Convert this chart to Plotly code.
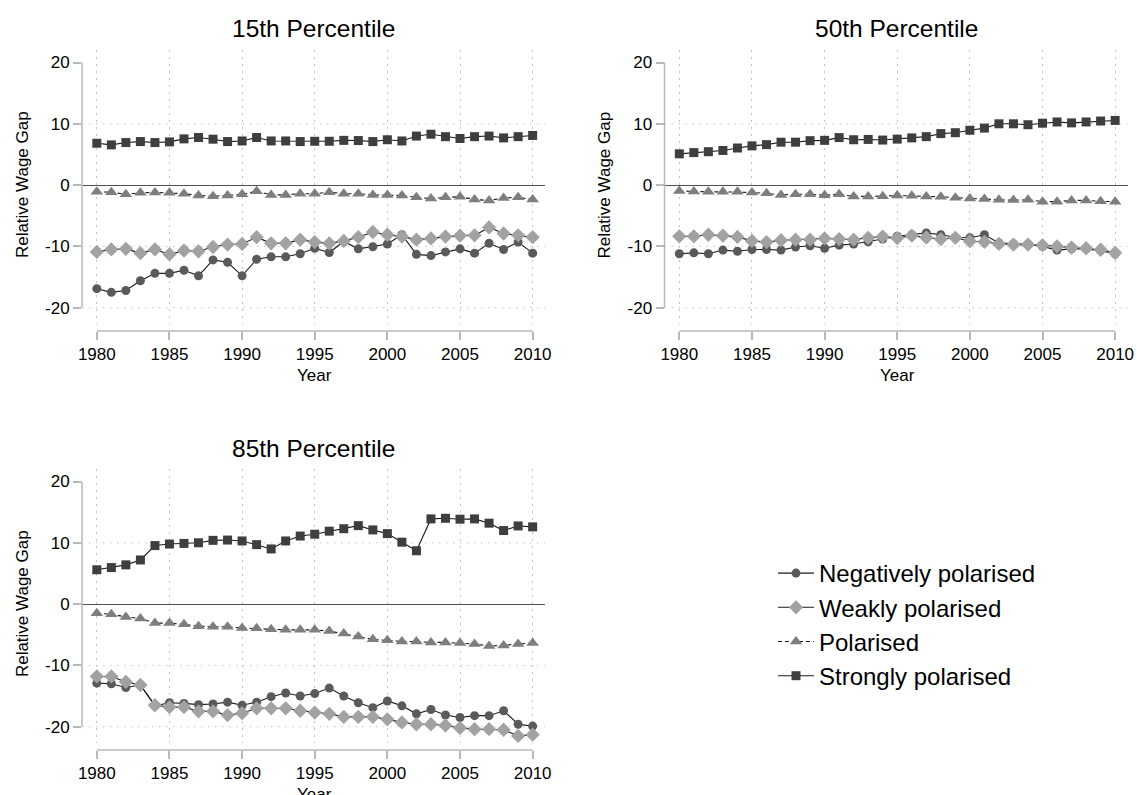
import plotly.graph_objects as go

W, H = 1137, 795
FONT = "Liberation Sans, Arial, Helvetica, sans-serif"


def px_x(v):
    return v / W


def px_y(v):
    return 1 - v / H


years = list(range(1980, 2011))
x_ticks = [1980, 1985, 1990, 1995, 2000, 2005, 2010]
y_ticks = [-20, -10, 0, 10, 20]
y_tick_labels = ["-20", "-10", "0", "10", "20"]
y_grid = [-20, -10, 10]

series_names = ["Negatively polarised", "Weakly polarised", "Polarised", "Strongly polarised"]
panel_titles = ["15th Percentile", "50th Percentile", "85th Percentile"]

# 15th percentile
neg15 = [-16.9, -17.5, -17.2, -15.6, -14.4, -14.4, -13.9, -14.8, -12.2, -12.6, -14.8, -12.1, -11.7, -11.7, -11.2,
         -10.3, -11.0, -9.2, -10.4, -10.05, -9.6, -8.1, -11.3, -11.5, -10.9, -10.4, -11.1, -9.5, -10.5, -9.3, -11.1]
weak15 = [-10.9, -10.5, -10.4, -11.1, -10.5, -11.3, -10.7, -10.8, -10.1, -9.7, -9.6, -8.5, -9.5, -9.5, -8.9,
          -9.3, -9.5, -9.1, -8.5, -7.65, -8.1, -8.4, -8.9, -8.7, -8.4, -8.25, -8.2, -6.9, -7.9, -8.2, -8.5]
pol15 = [-1.1, -1.15, -1.5, -1.25, -1.2, -1.25, -1.4, -1.7, -1.8, -1.7, -1.5, -1.0, -1.6, -1.6, -1.4,
         -1.4, -1.15, -1.4, -1.4, -1.6, -1.6, -1.7, -2.0, -2.2, -2.0, -1.9, -2.35, -2.5, -2.1, -2.0, -2.35]
strong15 = [6.83, 6.56, 6.94, 7.1, 6.94, 7.05, 7.54, 7.76, 7.49, 7.1, 7.2, 7.76, 7.2, 7.2, 7.1,
            7.15, 7.15, 7.3, 7.27, 7.1, 7.4, 7.2, 8.0, 8.3, 7.9, 7.6, 7.9, 8.0, 7.7, 7.9, 8.1]

# 50th percentile
neg50 = [-11.2, -11.05, -11.2, -10.6, -10.8, -10.5, -10.5, -10.6, -10.1, -9.9, -10.3, -9.8, -9.6, -9.25, -8.8,
         -8.35, -8.1, -7.8, -8.1, -8.5, -8.6, -8.1, -9.45, -9.6, -9.65, -10.0, -10.6, -10.4, -10.4, -10.7, -11.2]
weak50 = [-8.35, -8.35, -8.1, -8.25, -8.45, -9.1, -9.3, -9.0, -8.9, -8.9, -8.7, -8.8, -8.9, -8.6, -8.4,
          -8.65, -8.25, -8.55, -8.8, -8.6, -9.15, -9.25, -9.6, -9.7, -9.7, -9.8, -10.0, -10.2, -10.3, -10.55, -11.05]
pol50 = [-0.95, -1.05, -1.1, -1.1, -1.1, -1.2, -1.35, -1.6, -1.5, -1.5, -1.65, -1.5, -1.85, -1.85, -1.8,
         -1.7, -1.75, -1.85, -1.9, -2.05, -2.2, -2.25, -2.4, -2.45, -2.4, -2.7, -2.7, -2.5, -2.5, -2.65, -2.7]
strong50 = [5.1, 5.3, 5.45, 5.65, 6.05, 6.4, 6.6, 7.0, 7.0, 7.25, 7.3, 7.75, 7.4, 7.45, 7.35,
            7.5, 7.7, 7.9, 8.4, 8.55, 8.95, 9.3, 10.0, 10.0, 9.85, 10.1, 10.3, 10.15, 10.3, 10.45, 10.55]

# 85th percentile
neg85 = [-12.9, -13.0, -13.6, -13.2, -16.6, -16.1, -16.2, -16.4, -16.3, -16.0, -16.5, -16.0, -15.1, -14.5, -15.0,
         -14.6, -13.7, -15.0, -16.1, -16.9, -15.8, -16.6, -17.9, -17.2, -18.1, -18.5, -18.2, -18.2, -17.4, -19.6, -19.9]
weak85 = [-11.8, -11.8, -12.7, -13.2, -16.5, -16.8, -16.8, -17.5, -17.5, -18.1, -17.8, -17.0, -17.0, -17.0, -17.4,
          -17.7, -17.9, -18.4, -18.4, -18.4, -18.8, -19.3, -19.6, -19.6, -19.8, -20.2, -20.4, -20.4, -20.5, -21.5, -21.3]
pol85 = [-1.5, -1.65, -2.1, -2.35, -3.1, -3.1, -3.3, -3.6, -3.7, -3.7, -3.9, -3.95, -4.1, -4.2, -4.2,
         -4.2, -4.4, -4.8, -5.3, -5.75, -5.9, -6.1, -6.1, -6.25, -6.25, -6.35, -6.5, -6.85, -6.75, -6.5, -6.35]
strong85 = [5.6, 5.96, 6.4, 7.2, 9.55, 9.8, 9.9, 10.0, 10.4, 10.45, 10.3, 9.7, 9.0, 10.3, 11.1,
            11.4, 11.9, 12.3, 12.8, 12.1, 11.5, 10.1, 8.7, 13.9, 14.0, 13.85, 13.9, 13.2, 12.0, 12.75, 12.6]

panel_data = [
    [neg15, weak15, pol15, strong15],
    [neg50, weak50, pol50, strong50],
    [neg85, weak85, pol85, strong85],
]

# ---- styling ----
symbols = ["circle", "diamond", "triangle-up", "square"]
mcolors = ["#5a5a5a", "#a2a2a2", "#7e7e7e", "#3e3e3e"]
msizes = [9, 11, 11, 9]
dashes = ["solid", "solid", "4px,3px", "solid"]
LINE_COLOR = "#1a1a1a"
AX_COLOR = "#b8b8b8"
GRID_COLOR = "#c4c4c4"
GRID_DASH = "1.5px,5.5px"

# page-pixel boxes of plot regions: (left, right, top, bottom)
boxes = [(82, 545, 50, 324), (664.5, 1127.5, 50, 324), (82, 545, 469, 743)]
axis_gap = 7  # px between plot region bottom and x axis line
XR = [1978.98, 2010.85]
YR = [-22.66, 22.04]

fig = go.Figure()
layout = dict(
    template="none",
    width=W, height=H,
    margin=dict(l=0, r=0, t=0, b=0, pad=0),
    paper_bgcolor="white", plot_bgcolor="white",
    font=dict(family=FONT, color="black"),
    showlegend=True,
    legend=dict(x=px_x(773), y=px_y(551), xanchor="left", yanchor="top",
                font=dict(size=24, family=FONT, color="black"),
                bgcolor="rgba(0,0,0,0)", borderwidth=0, itemwidth=36, tracegroupgap=0),
)
shapes = []
annotations = []

for p, (data, title, box) in enumerate(zip(panel_data, panel_titles, boxes)):
    l, r, t, b = box
    sfx = "" if p == 0 else str(p + 1)
    xa, ya = "x" + sfx, "y" + sfx
    xdom = [px_x(l), px_x(r)]
    ydom = [px_y(b), px_y(t)]
    axis_y = b + axis_gap
    layout["xaxis" + sfx] = dict(
        domain=xdom, range=XR, anchor="free", position=px_y(axis_y), automargin=False,
        tickmode="array", tickvals=x_ticks, ticks="outside", ticklen=8,
        tickwidth=1.5, tickcolor=AX_COLOR, showline=False,
        showgrid=True, gridcolor=GRID_COLOR, gridwidth=1, griddash=GRID_DASH,
        zeroline=False, tickfont=dict(size=17, family=FONT, color="black"),
        ticklabeloverflow="allow", fixedrange=True,
    )
    layout["yaxis" + sfx] = dict(
        domain=ydom, range=YR, anchor=xa, automargin=False,
        tickmode="array", tickvals=y_ticks, ticktext=y_tick_labels, ticks="outside", ticklen=8,
        tickwidth=1.5, tickcolor=AX_COLOR, showline=False, showgrid=False,
        zeroline=True, zerolinecolor="#505050", zerolinewidth=1.3,
        tickfont=dict(size=17, family=FONT, color="black"), fixedrange=True,
    )
    for gv in y_grid:
        shapes.append(dict(type="line", xref=xa + " domain", x0=0, x1=1, yref=ya, y0=gv, y1=gv,
                           line=dict(color=GRID_COLOR, width=1, dash=GRID_DASH), layer="below"))
    # axis lines
    shapes.append(dict(type="line", xref=xa + " domain", x0=0, x1=0, yref=ya, y0=y_ticks[0], y1=y_ticks[-1],
                       line=dict(color=AX_COLOR, width=1.5), layer="above"))
    shapes.append(dict(type="line", xref=xa, x0=x_ticks[0], x1=x_ticks[-1], yref="paper",
                       y0=px_y(axis_y), y1=px_y(axis_y),
                       line=dict(color=AX_COLOR, width=1.5), layer="above"))
    # titles
    annotations.append(dict(text=title, xref="paper", yref="paper", x=px_x((l + r) / 2), y=px_y(t - 21),
                            showarrow=False, xanchor="center", yanchor="middle",
                            font=dict(size=24.5, family=FONT, color="black")))
    annotations.append(dict(text="Year", xref=xa, yref="paper", x=(x_ticks[0] + x_ticks[-1]) / 2,
                            y=px_y(axis_y + 44), showarrow=False, xanchor="center", yanchor="middle",
                            font=dict(size=17, family=FONT, color="black")))
    annotations.append(dict(text="Relative Wage Gap", xref="paper", yref=ya, x=px_x(l - 60), y=0,
                            showarrow=False, xanchor="center", yanchor="middle", textangle=-90,
                            font=dict(size=17, family=FONT, color="black")))

    for k, vals in enumerate(data):
        fig.add_trace(go.Scatter(
            x=years, y=vals, xaxis=xa, yaxis=ya, mode="lines+markers",
            name=series_names[k], legendgroup=series_names[k], showlegend=(p == 0),
            line=dict(color=LINE_COLOR, width=1.1, dash=dashes[k]),
            marker=dict(symbol=symbols[k], size=msizes[k], color=mcolors[k], line=dict(width=0)),
            cliponaxis=False,
        ))

layout["shapes"] = shapes
layout["annotations"] = annotations
fig.update_layout(**layout)
# remove the page's default body margin so the 1137x795 figure fills the window exactly
fig.write_html("out.html", config={"displayModeBar": False},
               post_script="document.body.style.margin='0';document.body.style.overflow='hidden';")
